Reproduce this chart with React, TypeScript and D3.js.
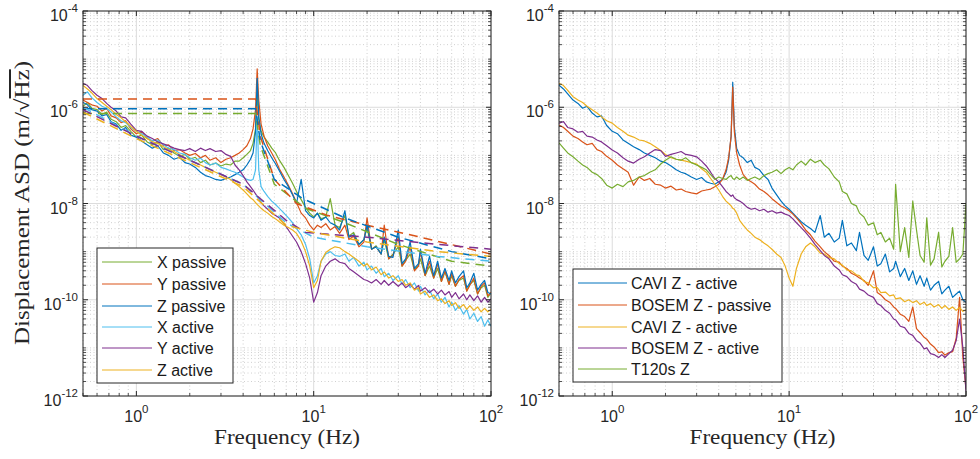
import React from 'react';
import * as d3 from 'd3';

// Shared frequency grid (Hz)
const FREQ = [0.5,0.53,0.56,0.6,0.64,0.68,0.72,0.77,0.82,0.87,
0.93,1.0,1.07,1.15,1.23,1.32,1.42,1.52,1.63,1.75,
1.88,2.0,2.15,2.3,2.45,2.6,2.8,3.0,3.2,3.4,
3.6,3.8,4.0,4.2,4.4,4.55,4.7,4.8,4.9,5.05,
5.25,5.5,5.8,6.1,6.4,6.8,7.2,7.6,8.0,8.5,
9.0,9.5,10.0,10.5,11.0,11.7,12.4,13.2,14.0,15.0,
15.8,16.8,18.0,19.2,20.0,21.2,22.5,24.0,25.0,26.5,
28.0,30.0,31.5,33.0,35.0,37.0,39.0,40.0,42.5,45.0,
47.5,50.0,52.5,55.0,58.0,60.0,63.0,66.0,70.0,73.0,
76.0,80.0,84.0,88.0,92.0,96.0,100.0];

// Left panel: log10 of ASD (m/sqrt(Hz))
const L_X_PASSIVE = [-5.98,-5.9,-6.02,-6.05,-6.15,-6.1,-6.25,-6.3,-6.42,-6.38,
-6.5,-6.62,-6.58,-6.72,-6.78,-6.72,-6.88,-6.85,-6.95,-7.02,
-6.98,-7.08,-7.04,-7.15,-7.1,-7.2,-7.16,-7.22,-7.18,-7.2,
-7.12,-7.12,-7.05,-6.98,-6.9,-6.75,-6.45,-5.7,-6.25,-6.5,
-6.62,-6.72,-6.85,-6.95,-7.1,-7.25,-7.42,-7.58,-7.75,-7.92,
-8.08,-8.2,-8.28,-8.2,-8.32,-8.28,-7.9,-8.45,-8.5,-8.25,
-8.68,-8.6,-8.85,-8.75,-8.5,-8.95,-8.88,-9.05,-8.75,-9.15,
-9.05,-8.9,-9.3,-9.18,-9.05,-9.38,-9.28,-9.15,-9.5,-9.3,
-9.55,-9.35,-9.62,-9.42,-9.68,-9.5,-9.72,-9.6,-9.55,-9.82,
-9.68,-9.6,-9.88,-9.75,-9.7,-9.95,-9.85];
const L_Y_PASSIVE = [-5.85,-5.9,-5.95,-5.98,-6.08,-6.02,-6.18,-6.22,-6.32,-6.28,
-6.45,-6.55,-6.5,-6.65,-6.7,-6.65,-6.8,-6.78,-6.9,-6.88,
-6.95,-7.0,-6.96,-7.05,-7.0,-7.1,-7.05,-7.15,-7.08,-7.05,
-7.0,-6.95,-6.88,-6.8,-6.65,-6.45,-6.05,-5.2,-5.85,-6.35,
-6.6,-6.8,-6.95,-7.1,-7.28,-7.45,-7.62,-7.8,-7.98,-8.2,
-8.3,-8.45,-8.55,-8.45,-8.5,-8.42,-8.55,-8.48,-8.62,-8.45,
-8.75,-8.68,-8.9,-8.8,-8.3,-8.95,-8.9,-9.05,-8.45,-9.15,
-9.08,-8.7,-9.3,-9.2,-8.9,-9.4,-9.3,-9.0,-9.5,-9.2,
-9.55,-9.25,-9.62,-9.4,-9.68,-9.45,-9.72,-9.58,-9.5,-9.82,
-9.7,-9.55,-9.88,-9.72,-9.65,-9.92,-9.85];
const L_Z_PASSIVE = [-5.9,-5.95,-6.05,-6.08,-6.18,-6.15,-6.3,-6.35,-6.48,-6.42,
-6.58,-6.62,-6.7,-6.78,-6.85,-6.8,-6.95,-7.0,-7.08,-7.04,
-7.15,-7.18,-7.25,-7.35,-7.42,-7.45,-7.5,-7.52,-7.48,-7.45,
-7.4,-7.35,-7.3,-7.2,-7.08,-6.95,-6.5,-5.4,-6.2,-6.55,
-6.75,-6.9,-7.05,-7.18,-7.32,-7.5,-7.65,-7.82,-8.0,-7.5,
-8.15,-8.25,-8.3,-8.2,-8.35,-8.28,-8.4,-8.45,-8.55,-8.15,
-8.7,-8.65,-8.85,-8.75,-8.45,-8.95,-8.9,-9.05,-8.7,-9.1,
-9.12,-8.55,-9.25,-9.15,-8.8,-9.35,-9.25,-8.95,-9.45,-9.1,
-9.5,-9.2,-9.55,-9.35,-9.6,-9.4,-9.65,-9.52,-9.4,-9.75,
-9.65,-9.45,-9.8,-9.68,-9.6,-9.85,-9.88];
const L_X_ACTIVE = [-5.75,-5.68,-5.8,-5.9,-5.98,-6.02,-6.1,-6.2,-6.28,-6.32,
-6.42,-6.5,-6.55,-6.62,-6.7,-6.68,-6.78,-6.85,-6.88,-6.95,
-6.98,-7.05,-7.1,-7.06,-7.15,-7.2,-7.16,-7.25,-7.28,-7.32,
-7.35,-7.4,-7.45,-7.5,-7.52,-7.5,-7.3,-6.2,-7.3,-7.65,
-7.75,-7.85,-7.95,-8.02,-8.1,-8.2,-8.3,-8.4,-8.52,-8.65,
-8.85,-9.15,-9.65,-9.5,-9.2,-9.05,-9.0,-9.08,-9.1,-9.05,
-9.2,-9.12,-9.3,-9.22,-9.38,-9.3,-9.45,-9.35,-9.52,-9.45,
-9.6,-9.5,-9.68,-9.58,-9.75,-9.65,-9.82,-9.72,-9.9,-9.8,
-9.98,-9.88,-10.05,-9.95,-10.15,-10.05,-10.22,-10.12,-10.3,-10.2,
-10.4,-10.28,-10.45,-10.35,-10.55,-10.42,-10.55];
const L_Y_ACTIVE = [-5.5,-5.55,-5.65,-5.75,-5.82,-5.92,-6.0,-6.08,-6.2,-6.22,
-6.35,-6.48,-6.5,-6.6,-6.65,-6.72,-6.76,-6.8,-6.85,-6.88,
-6.9,-6.86,-6.92,-6.85,-6.9,-6.86,-6.92,-6.9,-6.98,-7.02,
-7.2,-7.3,-7.42,-7.55,-7.65,-7.72,-7.8,-7.85,-7.9,-7.98,
-8.05,-8.12,-8.2,-8.25,-8.3,-8.42,-8.55,-8.68,-8.8,-9.0,
-9.25,-9.55,-10.05,-9.85,-9.5,-9.3,-9.2,-9.15,-9.22,-9.25,
-9.35,-9.42,-9.5,-9.58,-9.6,-9.65,-9.58,-9.68,-9.6,-9.7,
-9.62,-9.72,-9.65,-9.75,-9.68,-9.78,-9.7,-9.82,-9.75,-9.85,
-9.78,-9.88,-9.8,-9.9,-9.83,-9.95,-9.85,-9.98,-9.88,-10.0,
-9.9,-10.02,-9.92,-10.05,-9.95,-10.05,-9.98];
const L_Z_ACTIVE = [-5.55,-5.62,-5.7,-5.82,-5.9,-5.98,-6.05,-6.15,-6.22,-6.3,
-6.4,-6.5,-6.58,-6.65,-6.72,-6.75,-6.82,-6.88,-6.92,-6.98,
-7.05,-7.1,-7.15,-7.2,-7.25,-7.3,-7.35,-7.4,-7.45,-7.5,
-7.58,-7.65,-7.72,-7.8,-7.88,-7.92,-7.98,-8.02,-8.05,-8.1,
-8.15,-8.2,-8.27,-8.32,-8.38,-8.45,-8.5,-8.55,-8.62,-8.78,
-9.0,-9.3,-9.75,-9.6,-9.2,-9.02,-8.95,-8.9,-8.92,-9.0,
-9.05,-9.12,-9.2,-9.3,-9.25,-9.38,-9.32,-9.48,-9.42,-9.55,
-9.5,-9.62,-9.58,-9.7,-9.65,-9.8,-9.75,-9.88,-9.82,-9.95,
-9.9,-10.02,-9.98,-10.08,-10.02,-10.12,-10.06,-10.18,-10.1,-10.2,
-10.12,-10.22,-10.15,-10.25,-10.18,-10.25,-10.2];

// Left panel model fits: [Hz, log10 ASD]
const FIT_X_PASSIVE = [[0.5,-6.13],[4.7,-6.13],[5.0,-6.8],[6,-7.6],[9,-8.1],[15,-8.4],[30,-8.85],[60,-9.2],[100,-9.3]];
const FIT_Y_PASSIVE = [[0.5,-5.83],[4.7,-5.83],[5.0,-6.6],[6,-7.5],[8,-8.0],[12,-8.25],[20,-8.45],[40,-8.7],[100,-9.05]];
const FIT_Z_PASSIVE = [[0.5,-6.03],[4.7,-6.03],[5.0,-6.7],[6,-7.5],[8.7,-7.9],[15,-8.3],[30,-8.7],[60,-9.0],[100,-9.15]];
const FIT_X_ACTIVE = [[0.5,-6.0],[1,-6.6],[2,-7.1],[4,-7.6],[7,-8.4],[10,-8.7],[20,-8.9],[50,-9.1],[100,-9.2]];
const FIT_Y_ACTIVE = [[0.5,-6.05],[1,-6.6],[2,-7.1],[4,-7.6],[7,-8.35],[9,-8.6],[10.5,-8.62],[20,-8.7],[50,-8.85],[100,-8.95]];
const FIT_Z_ACTIVE = [[0.5,-6.1],[1,-6.65],[2,-7.15],[4,-7.65],[7,-8.45],[10,-8.6],[20,-8.8],[50,-9.0],[100,-9.1]];

// Right panel
const R_CAVI_Z_ACTIVE_1 = [-5.54,-5.62,-5.72,-5.85,-5.92,-6.02,-5.98,-6.12,-6.2,-6.18,
-6.38,-6.5,-6.55,-6.68,-6.75,-6.82,-6.88,-6.95,-7.0,-7.05,
-7.12,-7.15,-7.22,-7.3,-7.35,-7.38,-7.45,-7.5,-7.46,-7.55,
-7.58,-7.6,-7.55,-7.5,-7.35,-7.1,-6.6,-5.48,-6.4,-6.85,
-7.0,-7.05,-7.15,-7.1,-7.25,-7.3,-7.42,-7.5,-7.68,-7.82,
-7.95,-8.05,-8.12,-8.2,-8.28,-8.38,-8.45,-8.52,-8.6,-8.25,
-8.7,-8.62,-8.8,-8.72,-8.35,-8.88,-8.82,-8.98,-8.6,-9.08,
-9.18,-8.9,-9.3,-9.25,-9.05,-9.42,-9.35,-9.2,-9.52,-9.35,
-9.6,-9.4,-9.68,-9.5,-9.72,-9.55,-9.8,-9.7,-9.62,-9.88,
-9.8,-9.72,-9.95,-9.88,-9.82,-10.0,-10.05];
const R_BOSEM_Z_PASSIVE = [-6.37,-6.42,-6.5,-6.6,-6.65,-6.72,-6.78,-6.75,-6.88,-6.92,
-7.02,-7.1,-7.2,-7.28,-7.35,-7.62,-7.45,-7.52,-7.48,-7.6,
-7.62,-7.68,-7.64,-7.72,-7.7,-7.75,-7.78,-7.8,-7.74,-7.72,
-7.7,-7.65,-7.6,-7.5,-7.3,-7.05,-6.6,-5.58,-6.5,-6.95,
-7.2,-7.4,-7.5,-7.55,-7.6,-7.7,-7.75,-7.82,-7.9,-7.98,
-8.05,-8.1,-8.15,-8.22,-8.3,-8.42,-8.55,-8.65,-8.78,-8.9,
-9.0,-9.08,-9.2,-9.22,-9.3,-9.35,-9.45,-9.5,-9.55,-9.6,
-9.7,-9.4,-9.85,-9.9,-10.0,-10.05,-10.15,-10.18,-10.3,-10.35,
-10.45,-10.15,-10.6,-10.68,-10.78,-10.82,-10.92,-10.98,-11.1,-11.08,
-11.15,-11.1,-11.08,-10.8,-9.95,-11.2,-11.85];
const R_CAVI_Z_ACTIVE_2 = [-5.5,-5.55,-5.65,-5.78,-5.85,-5.9,-5.98,-6.05,-6.12,-6.2,
-6.28,-6.33,-6.42,-6.5,-6.58,-6.62,-6.68,-6.7,-6.75,-6.82,
-6.9,-6.98,-7.05,-7.08,-7.1,-7.12,-7.15,-7.18,-7.28,-7.35,
-7.48,-7.6,-7.72,-7.85,-7.95,-8.0,-8.05,-8.1,-8.12,-8.2,
-8.35,-8.45,-8.55,-8.62,-8.7,-8.75,-8.82,-8.88,-8.95,-9.05,
-9.12,-9.3,-9.55,-9.72,-9.35,-9.05,-8.9,-8.82,-8.9,-9.03,
-9.05,-9.12,-9.15,-9.25,-9.28,-9.38,-9.4,-9.48,-9.5,-9.62,
-9.65,-9.75,-9.75,-9.85,-9.84,-9.92,-9.9,-9.98,-9.96,-10.04,
-10.0,-10.06,-10.02,-10.1,-10.05,-10.12,-10.08,-10.15,-10.1,-10.18,
-10.12,-10.2,-10.15,-10.22,-10.16,-10.24,-10.21];
const R_BOSEM_Z_ACTIVE = [-6.33,-6.3,-6.42,-6.45,-6.52,-6.5,-6.6,-6.62,-6.68,-6.72,
-6.8,-6.89,-6.95,-7.05,-7.12,-7.16,-7.08,-7.03,-6.95,-6.88,
-6.9,-7.02,-6.98,-6.95,-6.92,-6.98,-7.0,-7.03,-7.12,-7.22,
-7.35,-7.48,-7.55,-7.65,-7.75,-7.8,-7.85,-7.82,-7.88,-7.92,
-7.95,-8.0,-8.08,-8.12,-8.1,-8.15,-8.12,-8.18,-8.15,-8.2,
-8.18,-8.22,-8.25,-8.32,-8.4,-8.5,-8.6,-8.72,-8.85,-8.98,
-9.08,-9.15,-9.3,-9.38,-9.48,-9.52,-9.62,-9.68,-9.78,-9.82,
-9.9,-9.95,-10.08,-10.12,-10.22,-10.28,-10.4,-10.42,-10.55,-10.58,
-10.7,-10.74,-10.85,-10.9,-11.02,-11.0,-11.12,-11.14,-11.2,-11.14,
-11.2,-11.12,-11.05,-10.85,-10.4,-11.0,-11.9];
const R_T120S_Z = [-6.74,-6.85,-6.95,-7.03,-7.12,-7.2,-7.25,-7.35,-7.4,-7.48,
-7.62,-7.68,-7.6,-7.65,-7.55,-7.52,-7.45,-7.42,-7.35,-7.3,
-7.18,-7.1,-7.03,-7.08,-7.1,-7.05,-7.15,-7.2,-7.25,-7.3,
-7.4,-7.5,-7.45,-7.48,-7.5,-7.45,-7.42,-7.48,-7.5,-7.45,
-7.5,-7.45,-7.52,-7.48,-7.45,-7.5,-7.42,-7.38,-7.35,-7.3,
-7.38,-7.3,-7.25,-7.3,-7.2,-7.12,-7.2,-7.08,-7.15,-7.1,
-7.2,-7.28,-7.45,-7.55,-7.75,-7.8,-8.0,-8.05,-8.2,-8.28,
-8.45,-8.4,-8.65,-8.6,-8.8,-8.72,-8.95,-7.6,-9.0,-8.5,
-9.12,-7.95,-8.55,-9.08,-9.22,-8.3,-9.28,-9.15,-8.6,-9.32,
-9.2,-9.1,-8.5,-9.22,-9.15,-9.05,-8.0];

const LEFT_LABELS = ['X passive', 'Y passive', 'Z passive', 'X active', 'Y active', 'Z active'];
const RIGHT_LABELS = ['CAVI Z - active', 'BOSEM Z - passive', 'CAVI Z - active', 'BOSEM Z - active', 'T120s Z'];

const C = {
  blue: '#0072BD', orange: '#D95319', yellow: '#EDB120',
  purple: '#7E2F8E', green: '#77AC30', cyan: '#4DBEEE',
};

const Y_TOP = 11;
const Y_BOT = 396;
const SANS = '"Liberation Sans", Arial, Helvetica, sans-serif';
const SERIF = '"Liberation Serif", "Times New Roman", serif';
const TXT = '#262626';

type Series = { vals: number[]; color: string };
type Fit = { pts: number[][]; color: string };

function Panel(props: {
  id: string;
  xr: [number, number];
  solids: Series[];
  fits: Fit[];
  labels: string[];
  colors: string[];
  legend: { x: number; y: number; w: number; h: number; rows: number[]; l0: number; l1: number; tx: number };
}) {
  const { id, xr, solids, fits, labels, colors, legend } = props;
  const x = d3.scaleLog().domain([0.5, 100]).range(xr);
  const y = d3.scaleLog().domain([1e-12, 1e-4]).range([Y_BOT, Y_TOP]);
  const line = d3.line<number[]>().x((d) => x(d[0])).y((d) => y(Math.pow(10, d[1])));

  const xMajor = [1, 10, 100];
  const xMinor: number[] = [];
  [0.1, 1, 10].forEach((dec) => {
    for (let k = 2; k <= 9; k++) {
      const v = k * dec;
      if (v >= 0.5 - 1e-9 && v <= 100) xMinor.push(v);
    }
  });
  const yMajorExp = [-12, -10, -8, -6, -4];
  const yMinor: number[] = [];
  for (let e = -12; e < -4; e++) {
    for (let k = 1; k <= 9; k++) {
      if (k === 1 && e % 2 === 0) continue;
      yMinor.push(k * Math.pow(10, e));
    }
  }
  const [x0, x1] = xr;

  return (
    <g>
      <defs>
        <clipPath id={id}>
          <rect x={x0} y={Y_TOP} width={x1 - x0} height={Y_BOT - Y_TOP} />
        </clipPath>
      </defs>
      <rect x={x0} y={Y_TOP} width={x1 - x0} height={Y_BOT - Y_TOP} fill="#fff" />
      {/* minor grid */}
      {xMinor.map((v, i) => (
        <line key={'xm' + i} x1={x(v)} x2={x(v)} y1={Y_TOP} y2={Y_BOT} stroke="#c4c4c4" strokeWidth={0.8} strokeDasharray="1,2.5" />
      ))}
      {yMinor.map((v, i) => (
        <line key={'ym' + i} x1={x0} x2={x1} y1={y(v)} y2={y(v)} stroke="#c4c4c4" strokeWidth={0.8} strokeDasharray="1,2.5" />
      ))}
      {/* major grid */}
      {xMajor.map((v, i) => (
        <line key={'xM' + i} x1={x(v)} x2={x(v)} y1={Y_TOP} y2={Y_BOT} stroke="#dcdcdc" strokeWidth={1} />
      ))}
      {yMajorExp.map((e, i) => (
        <line key={'yM' + i} x1={x0} x2={x1} y1={y(Math.pow(10, e))} y2={y(Math.pow(10, e))} stroke="#dcdcdc" strokeWidth={1} />
      ))}
      <g clipPath={`url(#${id})`}>
        {solids.map((s, i) => (
          <path key={'s' + i} d={line(FREQ.map((f, j) => [f, s.vals[j]])) || ''} fill="none" stroke={s.color} strokeWidth={1.2} strokeLinejoin="round" />
        ))}
        {fits.map((s, i) => (
          <path key={'f' + i} d={line(s.pts) || ''} fill="none" stroke={s.color} strokeWidth={1.5} strokeDasharray="9,6" />
        ))}
      </g>
      {/* ticks */}
      {xMajor.map((v, i) => (
        <g key={'xt' + i}>
          <line x1={x(v)} x2={x(v)} y1={Y_BOT} y2={Y_BOT - 5} stroke={TXT} />
          <line x1={x(v)} x2={x(v)} y1={Y_TOP} y2={Y_TOP + 5} stroke={TXT} />
        </g>
      ))}
      {xMinor.map((v, i) => (
        <g key={'xtm' + i}>
          <line x1={x(v)} x2={x(v)} y1={Y_BOT} y2={Y_BOT - 3} stroke={TXT} strokeWidth={0.8} />
          <line x1={x(v)} x2={x(v)} y1={Y_TOP} y2={Y_TOP + 3} stroke={TXT} strokeWidth={0.8} />
        </g>
      ))}
      {yMajorExp.map((e, i) => (
        <g key={'yt' + i}>
          <line x1={x0} x2={x0 + 5} y1={y(Math.pow(10, e))} y2={y(Math.pow(10, e))} stroke={TXT} />
          <line x1={x1} x2={x1 - 5} y1={y(Math.pow(10, e))} y2={y(Math.pow(10, e))} stroke={TXT} />
        </g>
      ))}
      {yMinor.map((v, i) => (
        <g key={'ytm' + i}>
          <line x1={x0} x2={x0 + 3} y1={y(v)} y2={y(v)} stroke={TXT} strokeWidth={0.8} />
          <line x1={x1} x2={x1 - 3} y1={y(v)} y2={y(v)} stroke={TXT} strokeWidth={0.8} />
        </g>
      ))}
      <rect x={x0} y={Y_TOP} width={x1 - x0} height={Y_BOT - Y_TOP} fill="none" stroke={TXT} strokeWidth={1} />
      {/* tick labels */}
      {xMajor.map((v, i) => (
        <text key={'xl' + i} x={x(v)} y={Y_BOT + 26} textAnchor="middle" fontFamily={SANS} fontSize={16} fill={TXT}>
          <tspan>10</tspan>
          <tspan dy={-9} fontSize={11.5}>{String(Math.round(Math.log10(v)))}</tspan>
        </text>
      ))}
      {yMajorExp.map((e, i) => (
        <text key={'yl' + i} x={x0 - 5} y={y(Math.pow(10, e)) + 10} textAnchor="end" fontFamily={SANS} fontSize={16} fill={TXT}>
          <tspan>10</tspan>
          <tspan dy={-9} fontSize={11.5}>{String(e)}</tspan>
        </text>
      ))}
      <text x={(x0 + x1) / 2} y={444} textAnchor="middle" fontFamily={SERIF} fontSize={20} fill={TXT} textLength={146} lengthAdjust="spacingAndGlyphs">
        Frequency (Hz)
      </text>
      {/* legend */}
      <rect x={legend.x} y={legend.y} width={legend.w} height={legend.h} fill="#fff" stroke={TXT} strokeWidth={1} />
      {labels.map((lab, i) => (
        <g key={'lg' + i}>
          <line x1={legend.l0} x2={legend.l1} y1={legend.rows[i]} y2={legend.rows[i]} stroke={colors[i]} strokeWidth={1} />
          <text x={legend.tx} y={legend.rows[i] + 6} fontFamily={SANS} fontSize={16} fill="#1a1a1a">
            {lab}
          </text>
        </g>
      ))}
    </g>
  );
}

export default function App() {
  const leftSolids: Series[] = [
    { vals: L_X_PASSIVE, color: C.green },
    { vals: L_Y_PASSIVE, color: C.orange },
    { vals: L_Z_PASSIVE, color: C.blue },
    { vals: L_X_ACTIVE, color: C.cyan },
    { vals: L_Y_ACTIVE, color: C.purple },
    { vals: L_Z_ACTIVE, color: C.yellow },
  ];
  const leftFits: Fit[] = [
    { pts: FIT_X_PASSIVE, color: C.green },
    { pts: FIT_Y_PASSIVE, color: C.orange },
    { pts: FIT_Z_PASSIVE, color: C.blue },
    { pts: FIT_X_ACTIVE, color: C.cyan },
    { pts: FIT_Y_ACTIVE, color: C.purple },
    { pts: FIT_Z_ACTIVE, color: C.yellow },
  ];
  const rightSolids: Series[] = [
    { vals: R_CAVI_Z_ACTIVE_1, color: C.blue },
    { vals: R_BOSEM_Z_PASSIVE, color: C.orange },
    { vals: R_CAVI_Z_ACTIVE_2, color: C.yellow },
    { vals: R_BOSEM_Z_ACTIVE, color: C.purple },
    { vals: R_T120S_Z, color: C.green },
  ];
  return (
    <svg width={980} height={459} style={{ position: 'absolute', left: 0, top: 0, background: '#fff' }}>
      <rect x={0} y={0} width={980} height={459} fill="#fff" />
      <Panel
        id="clipL"
        xr={[83, 491]}
        solids={leftSolids}
        fits={leftFits}
        labels={LEFT_LABELS}
        colors={[C.green, C.orange, C.blue, C.cyan, C.purple, C.yellow]}
        legend={{ x: 97, y: 248, w: 136, h: 135, rows: [262, 284, 306, 327, 348, 370], l0: 102, l1: 152, tx: 157 }}
      />
      <Panel
        id="clipR"
        xr={[559, 966]}
        solids={rightSolids}
        fits={[]}
        labels={RIGHT_LABELS}
        colors={[C.blue, C.orange, C.yellow, C.purple, C.green]}
        legend={{ x: 573, y: 269, w: 209, h: 113, rows: [283, 305, 327, 348, 369], l0: 578, l1: 627, tx: 631 }}
      />
      <text
        transform="translate(29,203) rotate(-90)"
        textAnchor="middle"
        fontFamily={SERIF}
        fontSize={20}
        fill={TXT}
        textLength={284}
        lengthAdjust="spacingAndGlyphs"
      >
        Displacement ASD (m/√<tspan style={{ textDecoration: 'overline' }}>Hz</tspan>)
      </text>
    </svg>
  );
}
